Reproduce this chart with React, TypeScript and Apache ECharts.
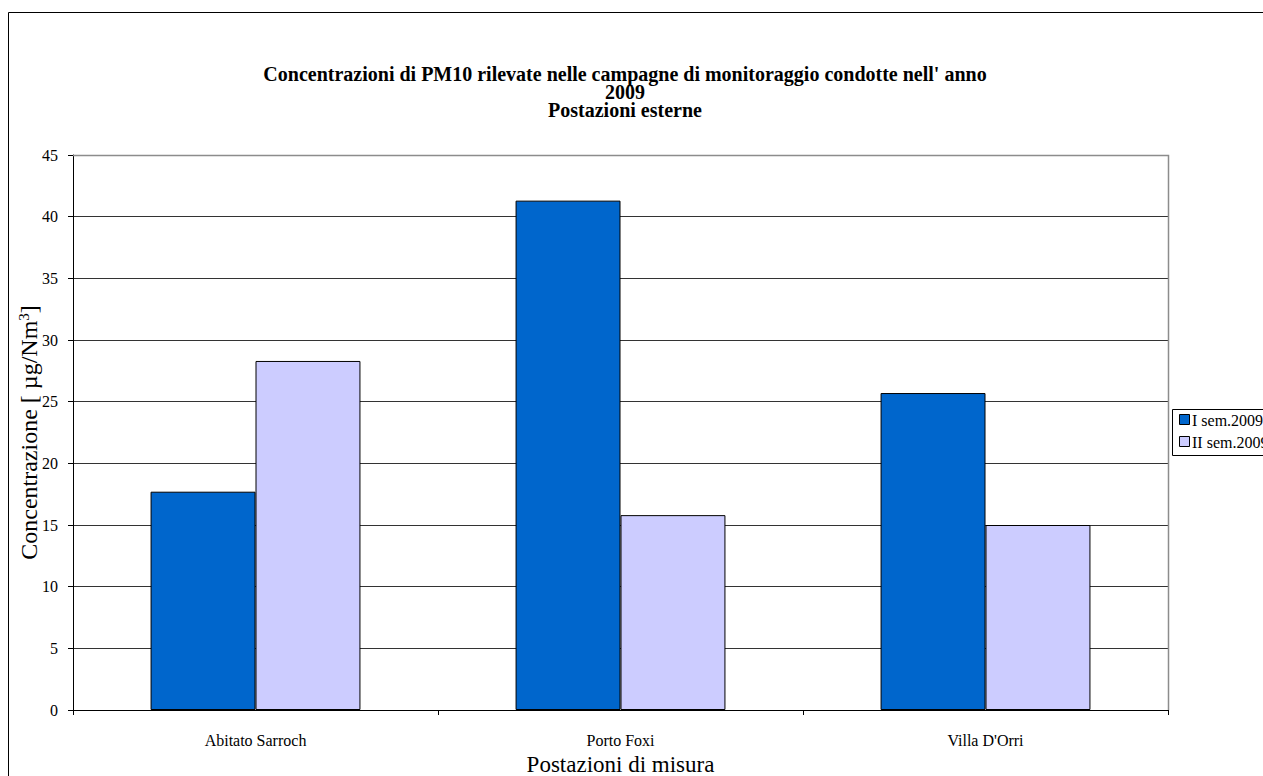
import React, { useEffect, useRef } from "react";
import * as echarts from "echarts";

const categories = ["Abitato Sarroch", "Porto Foxi", "Villa D'Orri"];
const seriesNames = ["I sem.2009", "II sem.2009"];
const firstSemester = [17.7, 41.3, 25.7];
const secondSemester = [28.3, 15.8, 15.0];
const colors = ["#0066CC", "#CCCCFF"];

const titleLines = [
  "Concentrazioni di PM10 rilevate nelle campagne di monitoraggio condotte nell' anno",
  "2009",
  "Postazioni esterne",
];

const FONT = "'Liberation Serif', 'Times New Roman', serif";
const WIDTH = 1255;
const HEIGHT = 768;

export default function App() {
  const ref = useRef<HTMLDivElement>(null);

  useEffect(() => {
    if (!ref.current) return;
    // the chart frame runs up to the window's right edge
    document.body.style.marginRight = "0px";
    document.documentElement.style.overflow = "hidden";
    const chart = echarts.init(ref.current, null, { renderer: "svg" });

    const legendItems: any[] = [];
    seriesNames.forEach((name, i) => {
      legendItems.push({
        type: "rect",
        z: 51,
        shape: { x: 1171.5, y: 406.5 + i * 22, width: 10, height: 10 },
        style: { fill: colors[i], stroke: "#000", lineWidth: 1 },
      });
      legendItems.push({
        type: "text",
        z: 51,
        x: 1184,
        y: 412 + i * 22,
        style: {
          text: name,
          font: `16px ${FONT}`,
          fill: "#000",
          verticalAlign: "middle",
        },
      });
    });

    chart.setOption({
      animation: false,
      backgroundColor: "#fff",
      textStyle: { fontFamily: FONT },
      title: {
        text: titleLines.join("\n"),
        left: 612,
        top: 52,
        textAlign: "center",
        textStyle: {
          fontFamily: FONT,
          fontSize: 20,
          fontWeight: "bold",
          color: "#000",
          lineHeight: 18,
        },
      },
      grid: {
        left: 65,
        top: 147,
        right: WIDTH - 1160,
        bottom: 66,
        containLabel: false,
        outerBoundsMode: "none",
      },
      xAxis: {
        type: "category",
        data: categories,
        name: "Postazioni di misura",
        nameLocation: "middle",
        nameGap: 43,
        nameMoveOverlap: false,
        nameTextStyle: { fontFamily: FONT, fontSize: 23, color: "#000" },
        axisLine: { lineStyle: { color: "#000", width: 1 } },
        axisTick: { show: true, length: 5, lineStyle: { color: "#000" } },
        axisLabel: { fontFamily: FONT, fontSize: 16, color: "#000", margin: 22 },
        splitLine: { show: false },
      },
      yAxis: {
        type: "value",
        min: 0,
        max: 45,
        interval: 5,
        name: "{n|Concentrazione [ µg/Nm}{s|3}{n|]}",
        nameLocation: "middle",
        nameGap: 31,
        nameRotate: 90,
        nameMoveOverlap: false,
        nameTextStyle: {
          rich: {
            n: { fontFamily: FONT, fontSize: 24, color: "#000" },
            s: { fontFamily: FONT, fontSize: 15, color: "#000", verticalAlign: "top", padding: [0, 0, 11, 0] },
          },
        },
        axisLine: { show: true, lineStyle: { color: "#000", width: 1 } },
        axisTick: { show: true, length: 5, lineStyle: { color: "#000" } },
        axisLabel: { fontFamily: FONT, fontSize: 16, color: "#000", margin: 15 },
        splitLine: { show: true, lineStyle: { color: "#333", width: 1 } },
      },
      series: [
        {
          name: seriesNames[0],
          type: "bar",
          data: firstSemester,
          barCategoryGap: "42.5%",
          barGap: "0%",
          itemStyle: { color: colors[0], borderColor: "#000", borderWidth: 1 },
        },
        {
          name: seriesNames[1],
          type: "bar",
          data: secondSemester,
          barCategoryGap: "42.5%",
          barGap: "0%",
          itemStyle: { color: colors[1], borderColor: "#000", borderWidth: 1 },
        },
      ],
      graphic: [
        {
          type: "rect",
          shape: { x: 0.5, y: 4.5, width: 1400, height: 900 },
          style: { fill: "none", stroke: "#000", lineWidth: 1 },
          z: 100,
        },
        {
          type: "polyline",
          shape: { points: [[65, 147.5], [1160.5, 147.5], [1160.5, 702]] },
          style: { fill: "none", stroke: "#8c8c8c", lineWidth: 1.5 },
          z: 1,
        },
        {
          type: "rect",
          shape: { x: 1164.5, y: 401.5, width: 200, height: 46 },
          style: { fill: "#fff", stroke: "#000", lineWidth: 1 },
          z: 50,
        },
        ...legendItems,
      ],
    });

    return () => {
      chart.dispose();
    };
  }, []);

  return <div ref={ref} style={{ width: WIDTH, height: HEIGHT }} />;
}
